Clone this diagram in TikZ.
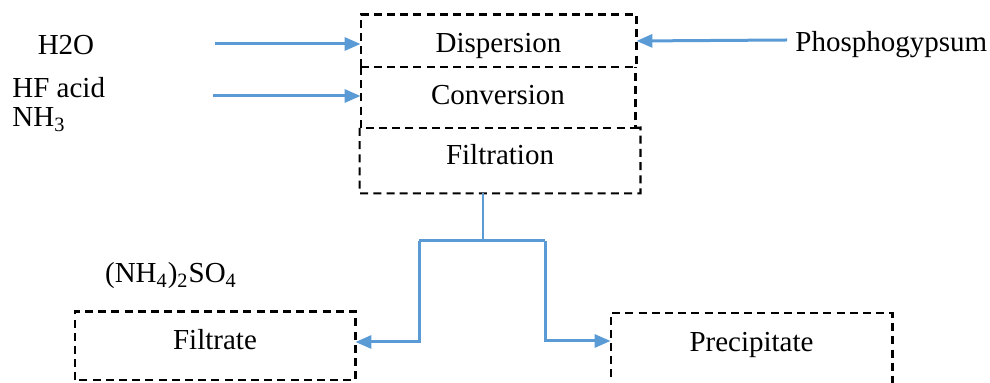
\documentclass[tikz,border=0pt]{standalone}
\usepackage{fontspec}
\setmainfont{Liberation Serif}
\usetikzlibrary{arrows.meta}
\definecolor{flowblue}{HTML}{5B9BD5}
\tikzset{
  area/.style={draw=none, inner sep=0pt},
  dashline/.style={draw=black, line width=1.1pt, dash pattern=on 4pt off 2.6pt},
  caption/.style={anchor=base, inner sep=0pt},
  flow/.style={draw=flowblue, line width=1.5pt,
    -{Triangle[length=8pt,width=6.5pt]}},
  feedline/.style={draw=flowblue, line width=1.5pt},
  stem/.style={draw=flowblue, line width=0.6pt}
}
\begin{document}
\begin{tikzpicture}[x=0.5pt, y=-0.5pt, font=\fontsize{14.5}{17}\selectfont]
\useasboundingbox (0,0) rectangle (990,383);

% process stages (stacked, sharing their dividing lines)
\node[area, minimum width=137.5pt, minimum height=26pt] (disp) at (498.5,41) {};
\node[area, minimum width=137pt, minimum height=30pt] (conv) at (498,97.5) {};
\node[area, minimum width=140pt, minimum height=32.5pt] (filt) at (500,160.5) {};
\draw[dashline] (disp.south west) -- (disp.north west) -- (disp.north east) -- (disp.south east);
\draw[dashline] (disp.south west) -- (disp.south east);
\draw[dashline] (conv.north west) -- (conv.south west) -- (conv.south east) -- (conv.north east);
\draw[dashline] (conv.south west) ++(-1,0) -- (filt.south west) -- (filt.south east) -- (filt.north east) -- (conv.south east);
\node[caption] (disptext) at (498.5,53) {Dispersion};
\node[caption] (convtext) at (498,105) {Conversion};
\node[caption] (filttext) at (500,165) {Filtration};

% products
\node[area, minimum width=140pt, minimum height=34pt] (filtrate) at (215,346) {};
\draw[dashline] (filtrate.south west) rectangle (filtrate.north east);
\node[caption] (filtratetext) at (215,350) {Filtrate};
\node[area, minimum width=140.5pt, minimum height=45pt, anchor=north] (prec) at (751.5,313) {};
\draw[dashline] (prec.south west) rectangle (prec.north east);
\node[caption] (prectext) at (751.5,352) {Precipitate};

% inputs and outputs named beside the flow
\node[caption] (h2o) at (66,55) {H2O};
\node[caption, anchor=base west] (hf) at (12,98) {HF acid};
\node[caption, anchor=base west] (nh3) at (12,127) {NH\textsubscript{3}};
\node[caption, anchor=base west] (pg) at (795,52) {Phosphogypsum};
\node[caption] (ams) at (171,283) {(NH\textsubscript{4})\textsubscript{2}SO\textsubscript{4}};

% feed arrows
\coordinate (h2ostart) at (215,44);
\coordinate (hfstart) at (213,96);
\coordinate (pgstart) at (787,40);
\draw[flow] (h2ostart) -- (disp.west |- h2ostart);
\draw[flow] (hfstart) -- (conv.west |- hfstart);
\draw[flow] (pgstart) -- (disp.east);

% split of the filtration output
\coordinate (split) at (483,241);
\coordinate (leftleg) at (419,241);
\coordinate (rightleg) at (545,241);
\draw[stem] (filt.south -| split) -- (split);
\draw[feedline] (leftleg) -- (rightleg);
\draw[flow] (leftleg) -- (leftleg |- 0,342) -- (filtrate.east |- 0,342);
\draw[flow] (rightleg) -- (rightleg |- 0,341) -- (prec.west |- 0,341);
\end{tikzpicture}
\end{document}
